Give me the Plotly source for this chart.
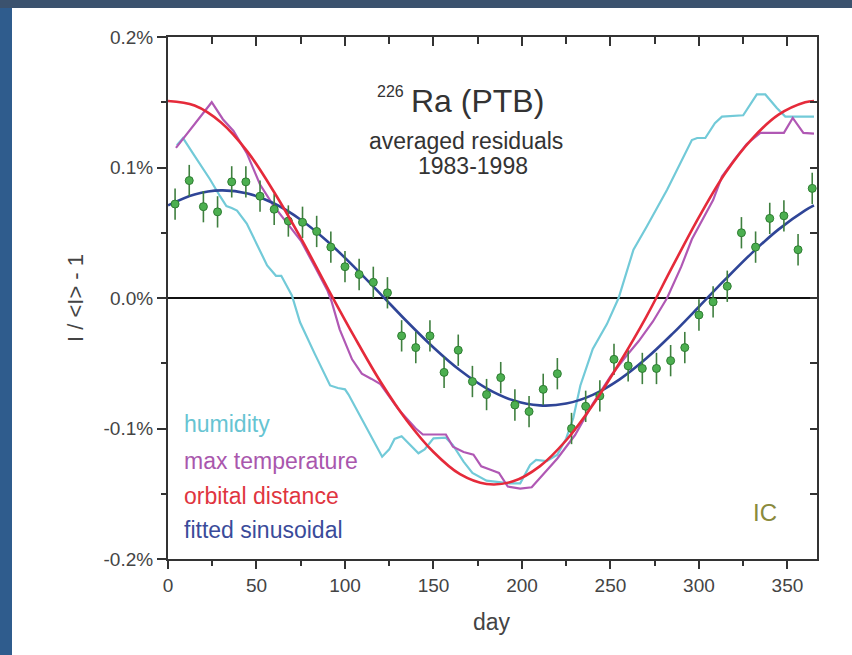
import plotly.graph_objects as go

# ---------------- data ----------------
point_days = [4, 12, 20, 28, 36, 44, 52, 60, 68, 76, 84, 92, 100, 108, 116, 124,
              132, 140, 148, 156, 164, 172, 180, 188, 196, 204, 212, 220, 228, 236,
              244, 252, 260, 268, 276, 284, 292, 300, 308, 316, 324, 332, 340, 348,
              356, 364]
point_vals = [0.072, 0.090, 0.070, 0.066, 0.089, 0.089, 0.078, 0.068, 0.059, 0.058,
              0.051, 0.039, 0.024, 0.018, 0.012, 0.004, -0.029, -0.038, -0.029, -0.057,
              -0.040, -0.064, -0.074, -0.061, -0.082, -0.087, -0.070, -0.058, -0.100, -0.083,
              -0.075, -0.047, -0.052, -0.054, -0.054, -0.048, -0.038, -0.013, -0.003, 0.009,
              0.050, 0.039, 0.061, 0.063, 0.037, 0.084]
point_errs = [0.012] * len(point_days)

humidity_days = [5, 8.5, 14, 23.7, 29.4, 33, 36, 39, 44.5, 50, 56, 61, 64, 70, 74.6, 83,
                 91.6, 96, 100, 102, 110, 121, 125, 128, 132, 137, 141.5, 145, 150, 157,
                 161, 167, 172, 180, 193, 199, 204.6, 208, 214, 220, 225, 229, 233, 240,
                 248, 254.6, 263, 270.6, 282, 296, 299, 303.6, 309, 313, 325, 332.7,
                 337.5, 344, 348.8, 365]
humidity_vals = [0.117, 0.1225, 0.111, 0.091, 0.078, 0.0705, 0.069, 0.067, 0.057, 0.042,
                 0.025, 0.017, 0.017, 0.002, -0.0186, -0.043, -0.067, -0.069, -0.070, -0.074,
                 -0.094, -0.1216, -0.116, -0.108, -0.106, -0.113, -0.119, -0.116, -0.1076, -0.107,
                 -0.1128, -0.1254, -0.134, -0.140, -0.142, -0.142, -0.128, -0.124, -0.125, -0.120,
                 -0.1076, -0.092, -0.067, -0.039, -0.020, 0.000, 0.037, 0.055, 0.083, 0.121,
                 0.1226, 0.1226, 0.134, 0.139, 0.140, 0.156, 0.156, 0.1456, 0.139, 0.139]

maxtemp_days = [4.5, 24.7, 31, 37, 44.5, 52, 59.5, 67, 75, 83, 90, 92.5, 97, 104, 109.5,
                115, 120, 130, 140, 144, 157, 161, 167, 172.6, 177, 183, 187, 192, 199,
                205.5, 213, 220, 230, 240, 250, 258, 266, 274, 282, 290, 296, 302, 308,
                313, 320, 327, 334.7, 348, 353, 359, 365]
maxtemp_vals = [0.115, 0.150, 0.137, 0.128, 0.111, 0.087, 0.071, 0.058, 0.044, 0.024, 0.006,
                -0.003, -0.024, -0.047, -0.058, -0.062, -0.066, -0.085, -0.100, -0.1046, -0.1046,
                -0.114, -0.118, -0.120, -0.129, -0.132, -0.134, -0.1445, -0.146, -0.145, -0.134,
                -0.123, -0.105, -0.081, -0.060, -0.046, -0.033, -0.018, 0.000, 0.024, 0.045,
                0.060, 0.075, 0.093, 0.106, 0.118, 0.1265, 0.1265, 0.138, 0.1265, 0.126]

curve_days = [0, 15, 30, 45, 60, 75, 90, 105, 120, 135, 150, 165, 180, 195, 210, 225,
              240, 255, 270, 285, 300, 315, 330, 345, 360, 365]
orbital_vals = [0.151, 0.1475, 0.1345, 0.112, 0.081, 0.046, 0.008, -0.029, -0.064, -0.094,
                -0.118, -0.135, -0.1425, -0.1405, -0.129, -0.109, -0.082, -0.050, -0.015, 0.024,
                0.062, 0.096, 0.122, 0.1405, 0.150, 0.151]
fitted_vals = [0.0710, 0.0794, 0.0825, 0.0801, 0.0724, 0.0600, 0.0435, 0.0241, 0.0032, -0.0180,
               -0.0379, -0.0554, -0.0692, -0.0784, -0.0823, -0.0809, -0.0742, -0.0625, -0.0466,
               -0.0275, -0.0067, 0.0144, 0.0346, 0.0526, 0.0672, 0.0710]

x_ticks = [0, 50, 100, 150, 200, 250, 300, 350]
y_ticks = [0.2, 0.1, 0.0, -0.1, -0.2]
y_tick_text = ["0.2%", "0.1%", "0.0%", "-0.1%", "-0.2%"]

legend_labels = ["humidity", "max temperature", "orbital distance", "fitted sinusoidal"]

# ---------------- styling ----------------
C_CYAN = "#72cad8"
C_MAG = "#b058b4"
C_RED = "#e52a3a"
C_BLUE = "#2f4597"
C_GREEN = "#4caf50"
AX = "#333333"
FONT = "Liberation Sans, Arial, sans-serif"

W, H = 852, 655
L, R, T, B = 168, 35, 37, 96
PW, PH = W - L - R, H - T - B


def pxx(x):
    return (x - L) / PW


def pxy(y):
    return (H - B - y) / PH


fig = go.Figure()
fig.add_trace(go.Scatter(x=humidity_days, y=humidity_vals, mode="lines",
                         line=dict(color=C_CYAN, width=2.2), showlegend=False))
fig.add_trace(go.Scatter(x=maxtemp_days, y=maxtemp_vals, mode="lines",
                         line=dict(color=C_MAG, width=2.2), showlegend=False))
fig.add_trace(go.Scatter(x=curve_days, y=fitted_vals, mode="lines",
                         line=dict(color=C_BLUE, width=2.6, shape="spline"), showlegend=False))
fig.add_trace(go.Scatter(x=point_days, y=point_vals, mode="markers",
                         marker=dict(size=8, color=C_GREEN, line=dict(color="#2e7d32", width=1)),
                         error_y=dict(type="data", array=point_errs, color="#3f7f3f",
                                      thickness=1.6, width=0),
                         showlegend=False))
fig.add_trace(go.Scatter(x=curve_days, y=orbital_vals, mode="lines",
                         line=dict(color=C_RED, width=2.6, shape="spline"), showlegend=False))
# helper trace so the mirrored top/right axes render
fig.add_trace(go.Scatter(x=[None], y=[None], xaxis="x2", yaxis="y2",
                         showlegend=False, hoverinfo="skip"))

xr = [0, 366.7]
yr = [-0.2, 0.2]

fig.update_layout(
    width=W, height=H, autosize=False,
    margin=dict(l=L, r=R, t=T, b=B, pad=0),
    paper_bgcolor="white", plot_bgcolor="white",
    font=dict(family=FONT, color="#444"),
    xaxis=dict(range=xr, tickvals=x_ticks, ticks="outside", ticklen=8, tickwidth=2,
               tickcolor=AX, showline=True, linecolor=AX, linewidth=2, showgrid=False,
               zeroline=False, tickfont=dict(size=19, color="#444"),
               minor=dict(ticks="outside", ticklen=5, tickwidth=2, tickcolor=AX,
                          dtick=25, tick0=0, showgrid=False)),
    yaxis=dict(range=yr, tickvals=y_ticks, ticktext=y_tick_text, ticks="outside",
               ticklen=9, tickwidth=2, tickcolor=AX, showline=True, linecolor=AX,
               linewidth=2, showgrid=False, zeroline=True, zerolinecolor="#111",
               zerolinewidth=1.6, tickfont=dict(size=19, color="#444"),
               minor=dict(ticks="outside", ticklen=5, tickwidth=2, tickcolor=AX,
                          dtick=0.05, tick0=0, showgrid=False)),
    xaxis2=dict(range=xr, overlaying="x", side="top", anchor="y", tickvals=x_ticks,
                ticks="inside", ticklen=9, tickwidth=2, tickcolor=AX, showticklabels=False,
                showline=True, linecolor=AX, linewidth=2, showgrid=False, zeroline=False,
                minor=dict(ticks="inside", ticklen=7, tickwidth=2, tickcolor=AX,
                           dtick=25, tick0=0, showgrid=False)),
    yaxis2=dict(range=yr, overlaying="y", side="right", anchor="x", dtick=0.05, tick0=0,
                ticks="inside", ticklen=7, tickwidth=2, tickcolor=AX, showticklabels=False,
                showline=True, linecolor=AX, linewidth=2, showgrid=False, zeroline=False),
)

# background frame (dark band on top, blue strip on left)
fig.add_shape(type="rect", xref="paper", yref="paper", x0=pxx(-5), x1=pxx(W + 5),
              y0=pxy(8), y1=pxy(-5), fillcolor="#3b526e", line=dict(width=0), layer="below")
fig.add_shape(type="rect", xref="paper", yref="paper", x0=pxx(-5), x1=pxx(12),
              y0=pxy(H + 5), y1=pxy(8), fillcolor="#2f5c8d", line=dict(width=0), layer="below")

ann = []
ann.append(dict(text="226", x=pxx(390), y=pxy(91), font=dict(size=16, color="#333")))
ann.append(dict(text="Ra (PTB)", x=pxx(477), y=pxy(101), font=dict(size=32, color="#333")))
ann.append(dict(text="averaged residuals", x=pxx(466), y=pxy(141), font=dict(size=23, color="#333")))
ann.append(dict(text="1983-1998", x=pxx(473), y=pxy(166), font=dict(size=23, color="#333")))
leg_colors = ["#66c4d2", "#a957ad", "#e0353f", "#3a4b9a"]
leg_y = [424, 461, 496, 530]
for lab, col, yy in zip(legend_labels, leg_colors, leg_y):
    ann.append(dict(text=lab, x=pxx(182), y=pxy(yy), xanchor="left",
                    font=dict(size=23, color=col)))
ann.append(dict(text="IC", x=pxx(765), y=pxy(512), font=dict(size=24, color="#8a8a3c")))
ann.append(dict(text="day", x=pxx(492), y=pxy(622), font=dict(size=23, color="#444")))
ann.append(dict(text="I / &lt;I&gt; - 1", x=pxx(75), y=pxy(298), textangle=-90,
                font=dict(size=22, color="#444")))

for a in ann:
    a.setdefault("xanchor", "center")
    a.update(xref="paper", yref="paper", yanchor="middle", showarrow=False)
    a["font"]["family"] = FONT
fig.update_layout(annotations=ann)

fig.write_html("out.html")
